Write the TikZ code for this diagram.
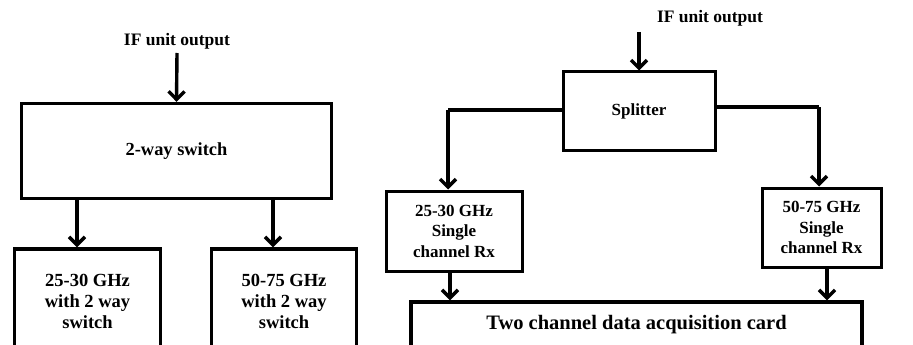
\documentclass[tikz,border=0pt]{standalone}
\usepackage{fontspec}
\setmainfont{Liberation Serif}
\usetikzlibrary{arrows.meta}
\begin{document}
\begin{tikzpicture}[x=1pt,y=-1pt,
  box/.style={draw=black, line width=3.4pt, fill=white, inner sep=0pt, align=center, font=\bfseries},
  lbl/.style={inner sep=0pt, font=\fontsize{17.5}{20}\selectfont\bfseries},
  arr/.style={line width=3.4pt, -{Straight Barb[length=8pt,width=16pt,line width=3.4pt]}},
  lin/.style={line width=3.2pt}]
\useasboundingbox (0,0) rectangle (913,345);
\clip (0,0) rectangle (913,345);
% ---------- left panel ----------
\node[lbl] (if1) at (177,41) {IF unit output};
\node[box, minimum width=310pt, minimum height=95pt, font=\fontsize{18.4}{21}\selectfont\bfseries] (sw) at (176.5,151) {2-way switch};
\node[box, minimum width=146pt, minimum height=104pt, font=\fontsize{18.5}{21}\selectfont\bfseries] (b1) at (87.5,301) {25-30 GHz\\with 2 way\\switch};
\node[box, minimum width=145pt, minimum height=104pt, font=\fontsize{18.5}{21}\selectfont\bfseries] (b2) at (284,301) {50-75 GHz\\with 2 way\\switch};
\coordinate (if1end) at (177,53);
\draw[arr] (if1end) -- (sw.north);
\draw[arr] (sw.south -| 77,0) -- (b1.north -| 77,0);
\draw[arr] (sw.south -| 273,0) -- (b2.north -| 273,0);
% ---------- right panel ----------
\node[lbl] (if2) at (710,18) {IF unit output};
\node[box, line width=3pt, minimum width=152pt, minimum height=78pt, font=\fontsize{17}{20}\selectfont\bfseries] (sp) at (639,111) {Splitter};
\node[box, line width=3pt, minimum width=136pt, minimum height=80pt, font=\fontsize{17}{20.5}\selectfont\bfseries] (rx1) at (454,231) {25-30 GHz\\Single\\channel Rx};
\node[box, line width=3pt, minimum width=119pt, minimum height=79pt, font=\fontsize{17}{20.5}\selectfont\bfseries] (rx2) at (821.5,227.5) {50-75 GHz\\Single\\channel Rx};
\node[box, line width=3.4pt, minimum width=451pt, minimum height=46pt, font=\fontsize{20.5}{24}\selectfont\bfseries] (daq) at (636.5,325) {Two channel data acquisition card};
\coordinate (if2end) at (639,32);
\coordinate (lc) at (448,110);
\coordinate (rc) at (819,107);
\draw[arr] (if2end) -- (sp.north);
\draw[lin] (sp.west |- lc) -- (lc);
\draw[arr] (lc) -- (lc |- rx1.north);
\draw[lin] (sp.east |- rc) -- (rc);
\draw[arr] (rc) -- (rc |- rx2.north);
\draw[arr] (rx1.south -| 450,0) -- (daq.north -| 450,0);
\draw[arr] (rx2.south -| 827,0) -- (daq.north -| 827,0);
\end{tikzpicture}
\end{document}
